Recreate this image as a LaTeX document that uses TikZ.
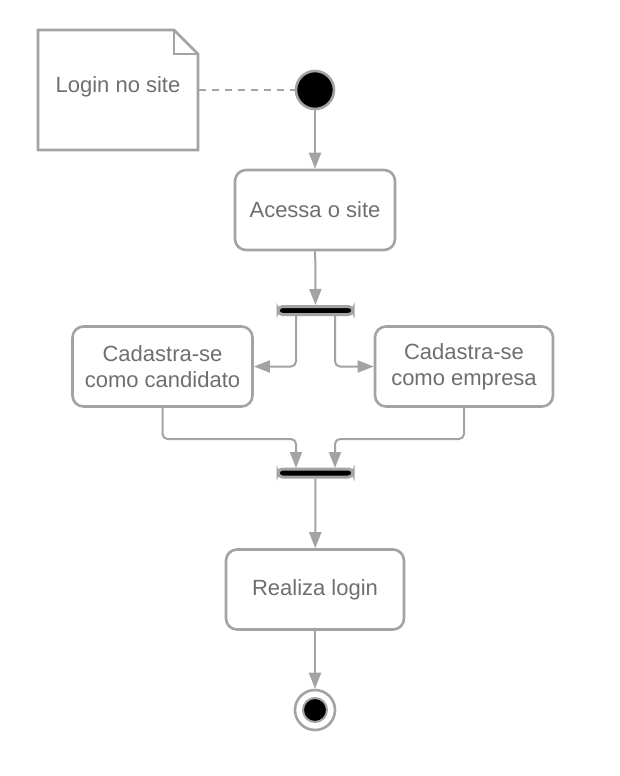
\documentclass[tikz,border=0pt]{standalone}
\usepackage{fontspec}
\setmainfont{Liberation Sans}
\usetikzlibrary{arrows.meta,positioning}
\definecolor{lgray}{HTML}{A3A3A3}
\definecolor{tgray}{HTML}{6F6F6F}
\tikzset{
  act/.style={draw=lgray, line width=2.6pt, rounded corners=11pt, fill=white, text=tgray,
    font=\fontsize{22}{26}\selectfont, align=center, inner sep=0pt},
  bar/.style={draw=lgray, fill=black, line width=3pt, rounded corners=4.5pt, minimum width=75pt, minimum height=8pt, inner sep=0pt},
  flow/.style={draw=lgray, line width=2pt, -{Triangle[length=16pt,width=12pt]}, rounded corners=5pt},
}
\begin{document}
\begin{tikzpicture}[x=1pt,y=-1pt]
\useasboundingbox (0,0) rectangle (620,776);
% note
\draw[lgray, line width=2.6pt, fill=white, line join=miter] (38,30) -- (174,30) -- (198,54) -- (198,150) -- (38,150) -- cycle;
\draw[lgray, line width=2.6pt] (174,30) -- (174,54) -- (198,54);
\node[text=tgray, font=\fontsize{22}{26}\selectfont, inner sep=0pt] (note) at (118,87) {Login no site};
\coordinate (noteR) at (199,90);
% initial
\node[circle, fill=black, draw=lgray, line width=2.6pt, minimum size=38pt, inner sep=0pt] (init) at (315,90) {};
\draw[lgray, line width=2pt, dash pattern=on 7pt off 6pt] (noteR) -- (init);
% acessa
\node[act, minimum width=160pt, minimum height=80pt] (acessa) at (315,210) {Acessa o site};
\draw[flow] (init) -- (acessa);
% fork
\node[bar] (fork) at (315.5,310.5) {};
\draw[flow] (acessa) -- (fork);
\node[act, minimum width=180pt, minimum height=80pt] (cand) at (162.5,366.5) {Cadastra-se\\como candidato};
\node[act, minimum width=178pt, minimum height=80pt] (emp) at (464,366.5) {Cadastra-se\\como empresa};
\draw[flow] (296,315) |- (cand.east);
\draw[flow] (335,315) |- (emp.west);
% join
\node[bar] (join) at (315.5,473) {};
\draw[flow] (cand.south) |- (296,439) -- (296,468);
\draw[flow] (emp.south) |- (335,439) -- (335,468);
% realiza
\node[act, minimum width=178pt, minimum height=80pt] (real) at (315,589.5) {Realiza login};
\draw[flow] (join) -- (real);
% final
\node[circle, draw=lgray, line width=2.6pt, minimum size=40pt, inner sep=0pt, fill=white] (fin) at (315,710) {};
\node[circle, draw=lgray, line width=2pt, fill=black, minimum size=24pt, inner sep=0pt] (finin) at (315,710) {};
\draw[flow] (real) -- (fin);
\end{tikzpicture}
\end{document}
